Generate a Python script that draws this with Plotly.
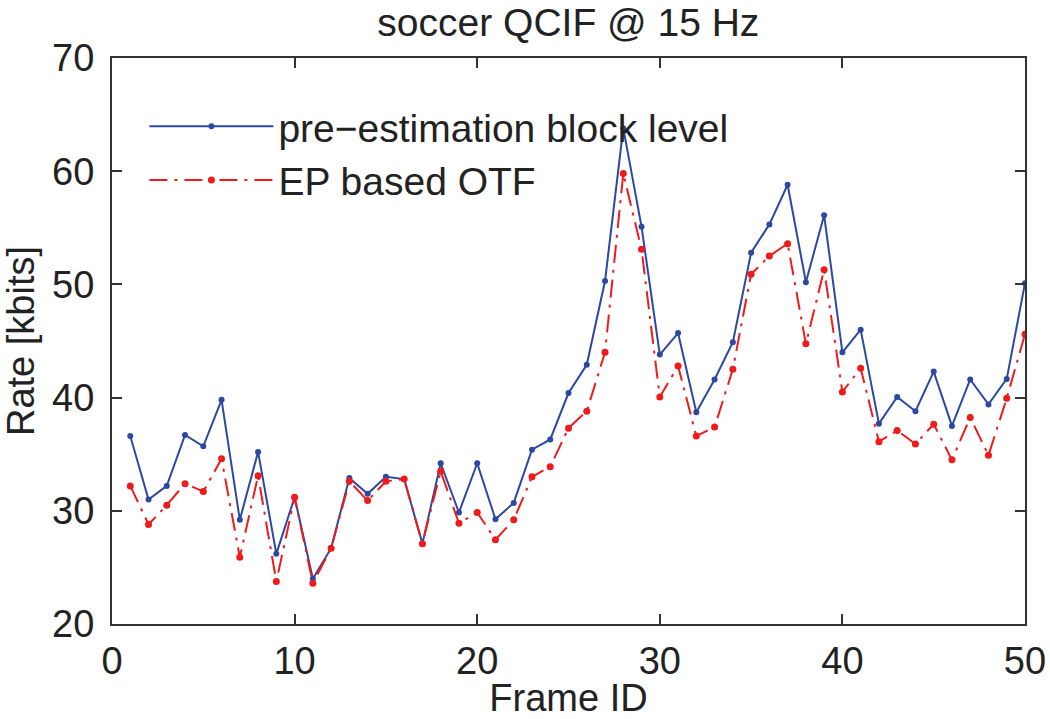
import plotly.graph_objects as go

frame_id = list(range(1, 51))
pre_estimation = [36.6, 31.0, 32.2, 36.7, 35.7, 39.8, 29.2, 35.2, 26.2, 31.2,
                  24.0, 26.7, 32.9, 31.5, 33.0, 32.8, 27.1, 34.2, 29.85, 34.2,
                  29.25, 30.7, 35.4, 36.3, 40.4, 42.9, 50.3, 63.8, 55.1, 43.8,
                  45.7, 38.7, 41.6, 44.9, 52.8, 55.3, 58.8, 50.2, 56.1, 44.0,
                  46.0, 37.7, 40.05, 38.8, 42.3, 37.5, 41.6, 39.4, 41.65, 50.1]
ep_otf = [32.2, 28.8, 30.5, 32.4, 31.7, 34.6, 25.9, 33.1, 23.75, 31.2,
          23.6, 26.7, 32.6, 30.9, 32.6, 32.8, 27.1, 33.5, 28.9, 29.85,
          27.45, 29.2, 33.0, 33.9, 37.3, 38.8, 44.0, 59.8, 53.1, 40.05,
          42.8, 36.6, 37.4, 42.5, 50.9, 52.5, 53.6, 44.75, 51.3, 40.5,
          42.6, 36.1, 37.1, 35.9, 37.65, 34.5, 38.25, 34.9, 39.95, 45.6]

series_names = ["pre\u2212estimation block level", "EP based OTF"]
title_text = "soccer QCIF @ 15 Hz"
x_label = "Frame ID"
y_label = "Rate [kbits]"

FONT = "Liberation Sans, Arial, Helvetica, sans-serif"
BLUE = "#2c48a3"
RED = "#f01a1a"
TXT = "#222222"

fig = go.Figure()
fig.add_trace(go.Scatter(
    x=frame_id, y=pre_estimation, name=series_names[0], mode="lines+markers",
    line=dict(color=BLUE, width=2),
    marker=dict(color=BLUE, size=6, symbol="circle"),
))
fig.add_trace(go.Scatter(
    x=frame_id, y=ep_otf, name=series_names[1], mode="lines+markers",
    line=dict(color=RED, width=2, dash="18px,7px,3px,7px"),
    marker=dict(color=RED, size=7, symbol="circle"),
))

axis_common = dict(
    showgrid=False, zeroline=False, showline=True, linecolor="#333333",
    linewidth=2, mirror="ticks", ticks="inside", ticklen=10, tickwidth=2,
    tickcolor="#333333", tickfont=dict(family=FONT, size=38, color=TXT),
    dtick=10, automargin=False,
)

fig.update_layout(
    width=1050, height=719,
    paper_bgcolor="white", plot_bgcolor="white",
    margin=dict(l=112, r=25, t=58, b=95),
    font=dict(family=FONT, color=TXT),
    title=dict(text=title_text, x=0.5413, xanchor="center", y=0.988,
               yanchor="top", yref="container",
               font=dict(family=FONT, size=39, color=TXT)),
    xaxis=dict(range=[0, 50], tick0=0,
               title=dict(text=x_label, standoff=5,
                          font=dict(family=FONT, size=38, color=TXT)),
               ticklabelstandoff=2, **axis_common),
    yaxis=dict(range=[20, 70], tick0=20,
               title=dict(text=y_label, standoff=12,
                          font=dict(family=FONT, size=38, color=TXT)),
               ticklabelstandoff=8, **axis_common),
    legend=dict(x=0.0355, y=0.9355, xanchor="left", yanchor="top",
                bgcolor="rgba(0,0,0,0)", borderwidth=0, itemwidth=124,
                font=dict(family=FONT, size=39, color=TXT),
                tracegroupgap=0),
    showlegend=True,
)

fig.write_html(
    "out.html",
    config={"displayModeBar": False},
    post_script="document.body.style.margin='0';document.body.style.padding='0';",
)
